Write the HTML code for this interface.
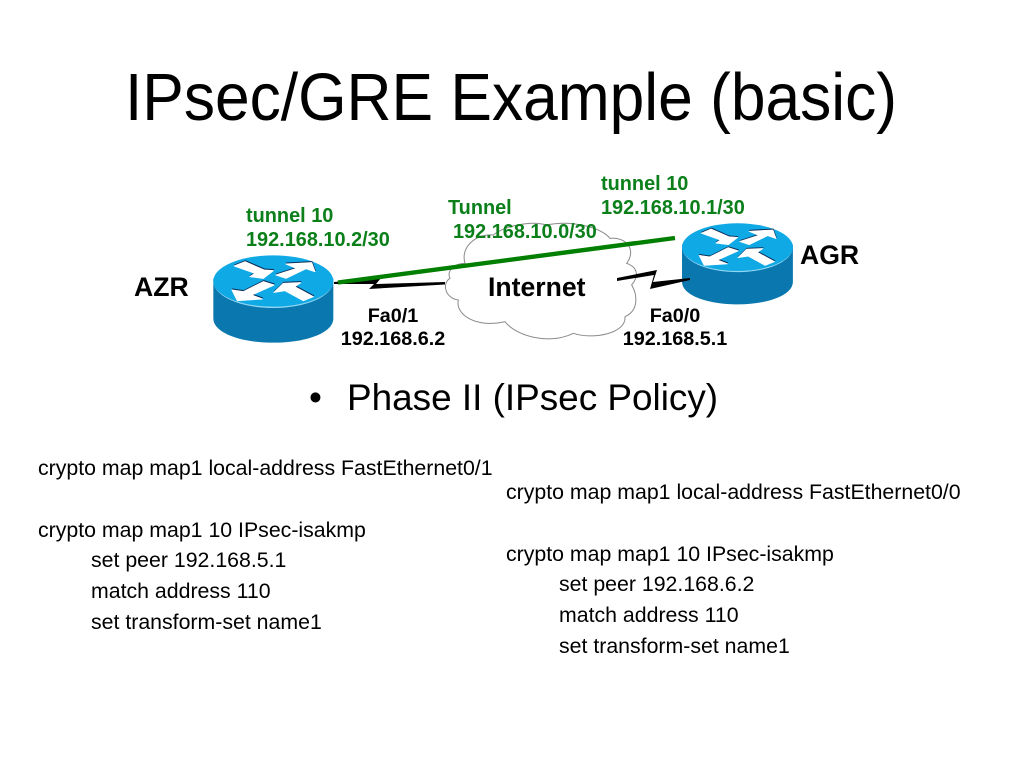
<!DOCTYPE html>
<html><head><meta charset="utf-8"><style>
html,body{margin:0;padding:0;background:#fff;width:1024px;height:768px;overflow:hidden}
svg{display:block}
text{font-family:"Liberation Sans",sans-serif}
.b{font-weight:bold}
.g{font-weight:bold;fill:#0b7f1a;font-size:19.9px}
.k{font-size:21.3px;fill:#000}
.l{font-weight:bold;font-size:19.8px;fill:#000}
</style></head><body>
<svg width="1024" height="768" viewBox="0 0 1024 768" xmlns="http://www.w3.org/2000/svg">
<defs>
<g id="arrows">
<path d="M103 78 L135 65 L192 90 L220 92 L190 115 L150 110 L165 100Z"/>
<path d="M228 105 L290 85 L258 72 L335 68 L345 95 L318 86 L258 115Z"/>
<path d="M96 150 L130 155 L190 125 L222 135 L155 165 L187 177 L112 182Z"/>
<path d="M222 157 L250 130 L302 128 L284 140 L340 170 L310 182 L255 152Z"/>
</g>
<g id="router">
<path d="M40 115 V235 C40 280 125 308 220 308 C315 308 400 280 400 235 V115 Z" fill="#0a78ae"/>
<ellipse cx="220" cy="123" rx="180" ry="77" fill="#0fa9e6"/>
<path d="M40 123 C40 165 120 200 220 200 C320 200 400 165 400 123 C400 168 320 204 220 204 C120 204 40 168 40 123Z" fill="#8fd8f5"/>
<use href="#arrows" transform="translate(1,-3)" fill="#0a2a55" stroke="#0a2a55" stroke-width="3" stroke-linejoin="round"/>
<use href="#arrows" fill="#fff" stroke="#fff" stroke-width="3" stroke-linejoin="round"/>
</g>
</defs>

<text x="125" y="120" font-size="66.5" fill="#000" textLength="772" lengthAdjust="spacingAndGlyphs">IPsec/GRE Example (basic)</text>

<g transform="translate(440,220) scale(.3333)">
<path d="M30 175 C5 190 15 235 55 240 C45 285 110 325 195 305 C230 350 330 375 400 340 C460 360 560 340 555 290 C600 270 590 220 575 195 C600 165 590 140 560 130 C590 90 560 50 510 55 C480 20 390 0 320 15 C270 0 190 20 160 45 C110 40 60 80 75 130 C40 130 20 155 30 175Z" fill="#fff" stroke="#8a8a8a" stroke-width="3"/>
</g>

<use href="#router" transform="translate(200,240) scale(.3333)"/>
<use href="#router" transform="translate(669.7,209) scale(.308,.3095)"/>

<path d="M334 282 L381 278 L376 284 L445 282 L445 284.5 L369 289 L374 284 L334 284Z" fill="#000"/>
<path d="M617 278 L657 270 L653 282 L690 278 L690 280 L650 289 L654 275 L617 281Z" fill="#000"/>
<line x1="338" y1="282.5" x2="675" y2="238" stroke="#007f00" stroke-width="4.4"/>

<text x="246" y="222" class="g">tunnel 10</text>
<text x="246" y="246" class="g">192.168.10.2/30</text>
<text x="448" y="214" class="g">Tunnel</text>
<text x="453" y="238" class="g">192.168.10.0/30</text>
<text x="601" y="190" class="g">tunnel 10</text>
<text x="601" y="214" class="g">192.168.10.1/30</text>

<text x="134" y="296" class="b" font-size="26.6">AZR</text>
<text x="800" y="264" class="b" font-size="26.6">AGR</text>
<text x="488" y="296" class="b" font-size="26.6">Internet</text>

<text x="393" y="322" class="l" text-anchor="middle">Fa0/1</text>
<text x="393" y="345" class="l" text-anchor="middle">192.168.6.2</text>
<text x="675" y="322" class="l" text-anchor="middle">Fa0/0</text>
<text x="675" y="345" class="l" text-anchor="middle">192.168.5.1</text>

<text x="309" y="410" font-size="36.9">•</text>
<text x="347" y="410" font-size="36.9">Phase II (IPsec Policy)</text>

<text x="38" y="475" class="k">crypto map map1 local-address FastEthernet0/1</text>
<text x="38" y="537" class="k">crypto map map1 10 IPsec-isakmp</text>
<text x="91" y="567" class="k">set peer 192.168.5.1</text>
<text x="91" y="598" class="k">match address 110</text>
<text x="91" y="629" class="k">set transform-set name1</text>

<text x="506" y="499" class="k">crypto map map1 local-address FastEthernet0/0</text>
<text x="506" y="561" class="k">crypto map map1 10 IPsec-isakmp</text>
<text x="559" y="591" class="k">set peer 192.168.6.2</text>
<text x="559" y="622" class="k">match address 110</text>
<text x="559" y="653" class="k">set transform-set name1</text>
</svg>
</body></html>
